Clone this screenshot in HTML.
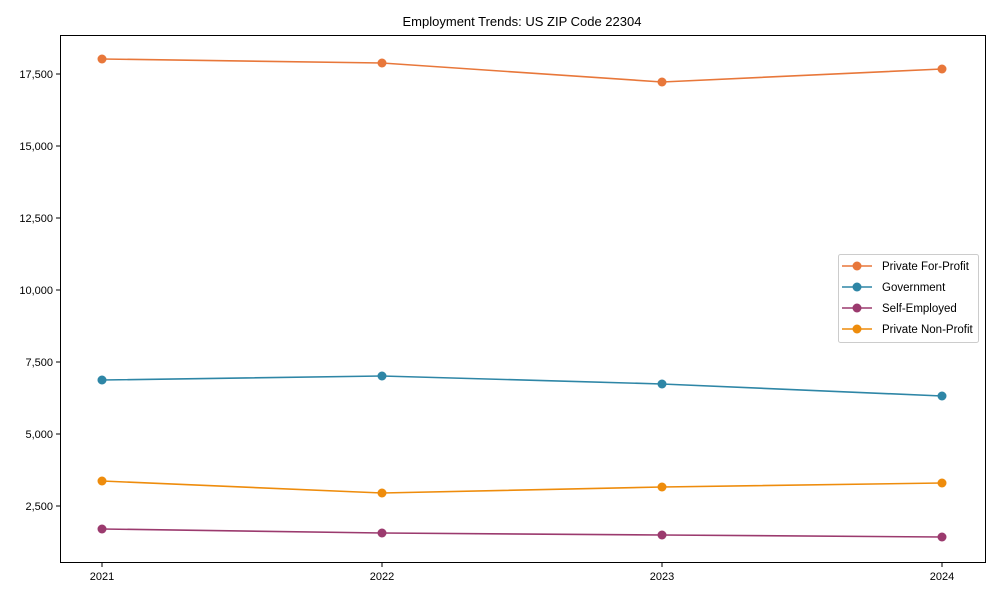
<!DOCTYPE html><html><head><style>body{margin:0;background:#fff}</style></head><body>
<svg width="1000" height="600" xmlns="http://www.w3.org/2000/svg" font-family="Liberation Sans, Arial, sans-serif">
<rect width="1000" height="600" fill="#fff"/>
<text x="522" y="26" font-size="13" text-anchor="middle">Employment Trends: US ZIP Code 22304</text>
<rect x="60.5" y="35.5" width="925" height="527" fill="none" stroke="#000" stroke-width="1"/>
<g font-size="11" text-anchor="end">
<line x1="56" x2="60" y1="74" y2="74" stroke="#000"/><text x="53" y="78">17,500</text>
<line x1="56" x2="60" y1="146" y2="146" stroke="#000"/><text x="53" y="150">15,000</text>
<line x1="56" x2="60" y1="218" y2="218" stroke="#000"/><text x="53" y="222">12,500</text>
<line x1="56" x2="60" y1="290" y2="290" stroke="#000"/><text x="53" y="294">10,000</text>
<line x1="56" x2="60" y1="362" y2="362" stroke="#000"/><text x="53" y="366">7,500</text>
<line x1="56" x2="60" y1="434" y2="434" stroke="#000"/><text x="53" y="438">5,000</text>
<line x1="56" x2="60" y1="506" y2="506" stroke="#000"/><text x="53" y="510">2,500</text>
</g>
<g font-size="11" text-anchor="middle">
<line x1="102" x2="102" y1="563" y2="567" stroke="#000"/><text x="102" y="580">2021</text>
<line x1="382" x2="382" y1="563" y2="567" stroke="#000"/><text x="382" y="580">2022</text>
<line x1="662" x2="662" y1="563" y2="567" stroke="#000"/><text x="662" y="580">2023</text>
<line x1="942" x2="942" y1="563" y2="567" stroke="#000"/><text x="942" y="580">2024</text>
</g>
<g stroke-width="1.6" fill="none">
<polyline points="102,59 382,63 662,82 942,69" stroke="#e8773a"/>
<polyline points="102,380 382,376 662,384 942,396" stroke="#2e86a6"/>
<polyline points="102,529 382,533 662,535 942,537" stroke="#9b3a6e"/>
<polyline points="102,481 382,493 662,487 942,483" stroke="#ee8c0c"/>
</g>
<g fill="#e8773a"><circle cx="102" cy="59" r="4.5"/><circle cx="382" cy="63" r="4.5"/><circle cx="662" cy="82" r="4.5"/><circle cx="942" cy="69" r="4.5"/></g>
<g fill="#2e86a6"><circle cx="102" cy="380" r="4.5"/><circle cx="382" cy="376" r="4.5"/><circle cx="662" cy="384" r="4.5"/><circle cx="942" cy="396" r="4.5"/></g>
<g fill="#9b3a6e"><circle cx="102" cy="529" r="4.5"/><circle cx="382" cy="533" r="4.5"/><circle cx="662" cy="535" r="4.5"/><circle cx="942" cy="537" r="4.5"/></g>
<g fill="#ee8c0c"><circle cx="102" cy="481" r="4.5"/><circle cx="382" cy="493" r="4.5"/><circle cx="662" cy="487" r="4.5"/><circle cx="942" cy="483" r="4.5"/></g>
<rect x="838.5" y="254.5" width="140" height="88" rx="2" fill="#fff" stroke="#ccc"/>
<g font-size="11.5">
<line x1="842" x2="872" y1="266" y2="266" stroke="#e8773a" stroke-width="1.6"/><circle cx="857" cy="266" r="4.5" fill="#e8773a"/><text x="882" y="270">Private For-Profit</text>
<line x1="842" x2="872" y1="287" y2="287" stroke="#2e86a6" stroke-width="1.6"/><circle cx="857" cy="287" r="4.5" fill="#2e86a6"/><text x="882" y="291">Government</text>
<line x1="842" x2="872" y1="308" y2="308" stroke="#9b3a6e" stroke-width="1.6"/><circle cx="857" cy="308" r="4.5" fill="#9b3a6e"/><text x="882" y="312">Self-Employed</text>
<line x1="842" x2="872" y1="329" y2="329" stroke="#ee8c0c" stroke-width="1.6"/><circle cx="857" cy="329" r="4.5" fill="#ee8c0c"/><text x="882" y="333">Private Non-Profit</text>
</g>
</svg></body></html>
